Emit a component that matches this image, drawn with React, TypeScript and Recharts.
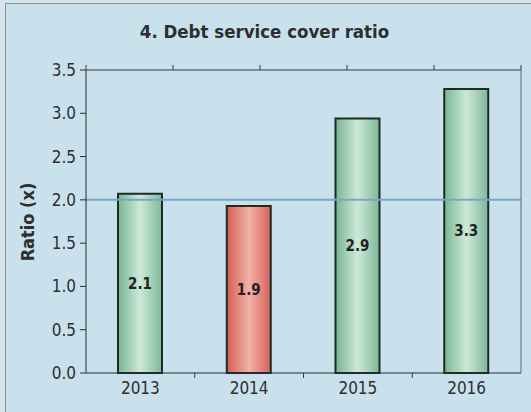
import React from 'react';
import { BarChart, Bar, XAxis, YAxis, ReferenceLine, Cell, LabelList } from 'recharts';

const years = ['2013', '2014', '2015', '2016'];
const ratios = [2.07, 1.93, 2.94, 3.28];
const yTicks = [0, 0.5, 1.0, 1.5, 2.0, 2.5, 3.0, 3.5];
const threshold = 2.0;
const title = '4. Debt service cover ratio';
const yLabel = 'Ratio (x)';
const topDivisions = 5;

const data = years.map((y, i) => ({ year: y, ratio: ratios[i] }));

const FONT = '"DejaVu Sans Condensed", "DejaVu Sans", Tahoma, sans-serif';
const TXT = '#2e2e2e';

// top axis is an index axis spanning [0, n-1]; split it into equal divisions
const topSpan = years.length - 1;
const topTicks = Array.from({ length: topDivisions + 1 }, (_, i) => (i * topSpan) / topDivisions);

const BottomTick = (props: any) => {
  const { x, y, payload, index } = props;
  const off = payload && payload.offset ? payload.offset : 0;
  return (
    <g>
      {index > 0 && <line x1={x - off} x2={x - off} y1={y - 9} y2={y - 4} stroke="#3a3a3a" strokeWidth={1} />}
      <text x={x} y={y} dy="0.71em" textAnchor="middle" fill={TXT} fontSize={17} fontFamily={FONT}>
        {payload.value}
      </text>
    </g>
  );
};

export default function App() {
  return (
    <div style={{ position: 'absolute', left: 0, top: 0, width: 531, height: 412, background: '#d6e4ec', overflow: 'hidden', fontFamily: FONT }}>
      <div style={{ position: 'absolute', left: 5, top: 3, width: 560, height: 440, background: '#c9e1ed', border: '1px solid #8c9296' }} />
      <div style={{ position: 'absolute', left: 0, top: 0 }}>
        <BarChart width={531} height={412} data={data} margin={{ top: 0, right: 0, bottom: 0, left: 0 }}>
          <defs>
            <linearGradient id="gGreen" x1="0" y1="0" x2="1" y2="0">
              <stop offset="0%" stopColor="#78b593" />
              <stop offset="50%" stopColor="#cde9d9" />
              <stop offset="100%" stopColor="#7db897" />
            </linearGradient>
            <linearGradient id="gRed" x1="0" y1="0" x2="1" y2="0">
              <stop offset="0%" stopColor="#d65c54" />
              <stop offset="50%" stopColor="#f1b2a8" />
              <stop offset="100%" stopColor="#d8625a" />
            </linearGradient>
          </defs>
          <XAxis
            xAxisId="top"
            orientation="top"
            type="number"
            domain={[0, topSpan]}
            ticks={topTicks}
            allowDataOverflow
            height={70}
            tickSize={5}
            tickFormatter={() => ''}
            stroke="#3a3a3a"
          />
          <XAxis
            xAxisId="main"
            dataKey="year"
            height={39}
            tickLine={false}
            tickSize={0}
            tickMargin={9}
            stroke="#2a2a2a"
            tick={<BottomTick />}
          />
          <YAxis
            yAxisId="left"
            width={86}
            domain={[0, 3.5]}
            ticks={yTicks}
            tickFormatter={(v: number) => v.toFixed(1)}
            tickSize={6}
            tickMargin={4}
            stroke="#2a2a2a"
            tick={{ fill: TXT, fontSize: 17, fontFamily: FONT }}
          />
          <YAxis
            yAxisId="right"
            orientation="right"
            width={10}
            type="number"
            domain={[0, 1]}
            allowDataOverflow
            tick={false}
            tickLine={false}
            stroke="#5f6a6e"
          />
          <Bar
            xAxisId="main"
            yAxisId="left"
            dataKey="ratio"
            barSize={44}
            stroke="#1d2b24"
            strokeWidth={2}
            isAnimationActive={false}
          >
            {data.map((d, i) => (
              <Cell key={i} fill={d.ratio < threshold ? 'url(#gRed)' : 'url(#gGreen)'} />
            ))}
            <LabelList
              dataKey="ratio"
              position="center"
              formatter={(v: number) => v.toFixed(1)}
              style={{ fill: '#222', fontSize: 15, fontWeight: 'bold', fontFamily: FONT }}
            />
          </Bar>
          <ReferenceLine xAxisId="main" yAxisId="left" y={threshold} stroke="#7aa6c6" strokeWidth={2} />
        </BarChart>
      </div>
      <div style={{ position: 'absolute', left: 0, width: 531, top: 21, textAlign: 'center' }}>
        <span style={{ position: 'relative', left: -1, fontSize: 18.5, fontWeight: 'bold', color: TXT, fontFamily: FONT }}>{title}</span>
      </div>
      <div style={{ position: 'absolute', left: 27, top: 222, transform: 'translate(-50%, -50%) rotate(-90deg)', whiteSpace: 'nowrap', fontSize: 18, fontWeight: 'bold', color: TXT, fontFamily: FONT }}>
        {yLabel}
      </div>
    </div>
  );
}
